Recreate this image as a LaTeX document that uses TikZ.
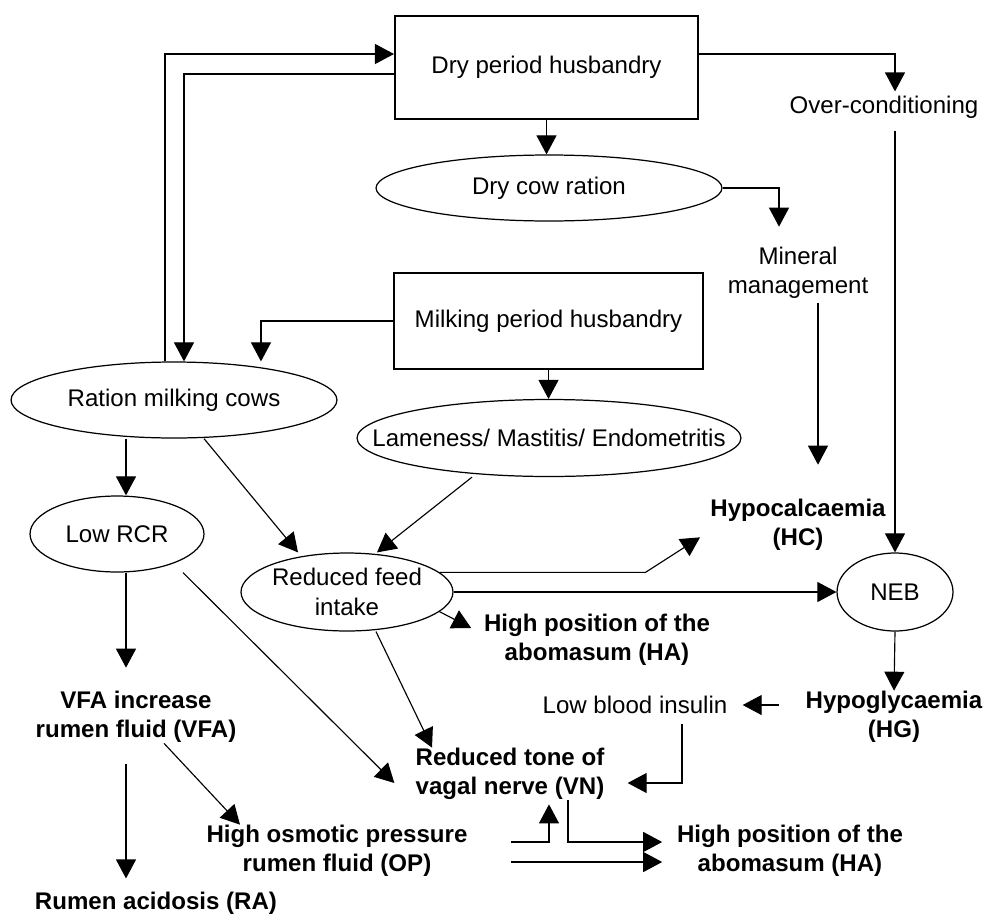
\documentclass[tikz,border=0pt]{standalone}
\usepackage{fontspec}
\setmainfont{Liberation Sans}
\usetikzlibrary{shapes.geometric,arrows.meta,positioning}

\tikzset{
	txt/.style={inner sep=0pt, align=center, font=\fontsize{13.7}{16.8}\selectfont},
	bld/.style={txt, font=\fontsize{13.7}{16.8}\selectfont\bfseries},
	oval/.style={txt, draw, ellipse, line width=0.7pt},
	stall/.style={txt, draw, rectangle, line width=1.2pt},
	flow/.style={-{Triangle[length=0.38cm,width=0.4cm]}, line width=0.65pt},
}

\begin{document}
\begin{tikzpicture}[x=0.02cm, y=-0.02cm]
		\useasboundingbox	(0, 0) rectangle (986, 916);

		\node[stall, minimum width=6.06cm, minimum height=2.06cm]	(dry) at (546.5, 67.5) {Dry period husbandry};
		\node[stall, minimum width=6.18cm, minimum height=1.92cm]	(milk) at (548.5, 321) {Milking period husbandry};
		\node[oval, minimum width=6.92cm, minimum height=1.32cm]	(drycow) at (549, 188) {Dry cow ration};
		\node[oval, minimum width=6.52cm, minimum height=1.52cm]	(ration) at (174, 400) {Ration milking cows};
		\node[oval, minimum width=7.68cm, minimum height=1.54cm]	(lame) at (549, 438) {\makebox[0pt]{Lameness/ Mastitis/ Endometritis}};
		\node[oval, minimum width=3.48cm, minimum height=1.52cm]	(lowrcr) at (117, 534) {Low RCR};
		\node[oval, minimum width=4.24cm, minimum height=1.56cm]	(feed) at (347, 592) {Reduced feed\\intake};
		\node[oval, minimum width=2.32cm, minimum height=1.56cm]	(neb) at (895, 592) {NEB};

		\node[txt]	(overcond) at (884, 107) {Over-conditioning};
		\node[txt]	(mineral) at (798, 273) {Mineral\\management};
		\node[bld]	(hc) at (798, 525) {Hypocalcaemia\\(HC)};
		\node[bld]	(haone) at (597, 640) {High position of the\\abomasum (HA)};
		\node[txt]	(insulin) at (635, 705) {Low blood insulin};
		\node[bld]	(hg) at (894, 717) {Hypoglycaemia\\(HG)};
		\node[bld]	(vfa) at (136, 717) {VFA increase\\rumen fluid (VFA)};
		\node[bld]	(vn) at (510, 774) {Reduced tone of\\vagal nerve (VN)};
		\node[bld]	(op) at (337, 851) {High osmotic pressure\\rumen fluid (OP)};
		\node[bld]	(hatwo) at (790, 851) {High position of the\\abomasum (HA)};
		\node[bld]	(ra) at (156, 903) {Rumen acidosis (RA)};

		\coordinate	(lcol) at ([xshift=0.18cm]lowrcr.north);

		\draw[flow]	([xshift=-0.18cm]ration.north) |- ([yshift=0.27cm]dry.west);
		\draw[flow]	([yshift=-0.13cm]dry.west) -| ([xshift=0.2cm]ration.north);
		\draw[flow]	([yshift=0.27cm]dry.east) -| ([xshift=0.22cm, yshift=0.08cm]overcond.north);
		\draw[flow, shorten <=0.24cm]	(overcond.south -| neb.north) to (neb.north);
		\draw[flow]	(dry.south) to (dry.south |- drycow.north);
		\draw[flow]	(drycow.east) -| ([xshift=-0.38cm, yshift=0.4cm]mineral.north);
		\draw[flow, shorten <=0.08cm, shorten >=0.68cm]	([xshift=0.4cm]mineral.south) to ([xshift=0.4cm]hc.north);

		\draw[flow]	(milk.west) -| ([xshift=1.74cm]ration.north);
		\draw[flow]	(milk.south) to (milk.south |- lame.north);
		\draw[flow]	(lcol |- ration.south) to (lcol);
		\draw[flow]	([xshift=0.6cm]ration.south) to ([xshift=-0.98cm]feed.north);
		\draw[flow]	([xshift=-1.54cm]lame.south) to ([xshift=0.6cm]feed.north);

		\draw[flow]	([xshift=1.32cm]lowrcr.south) to ([xshift=-0.42cm, yshift=-0.18cm]vn.west);
		\draw[flow, shorten >=0.46cm]	(lcol |- lowrcr.south) to (lcol |- vfa.north);
		\draw[flow, shorten <=0.42cm, shorten >=0.26cm]	(lcol |- vfa.south) to (lcol |- ra.north);
		\draw[flow]	([xshift=0.56cm]vfa.south) to ([xshift=-1.94cm]op.north);

		\draw[flow]	([xshift=0.58cm]feed.south) to ([xshift=-1.56cm]vn.north);
		\draw[flow]	(feed.-12) to ([xshift=-0.25cm, yshift=0.24cm]haone.west);
		\draw[flow]	(feed.12) -- ++(206, 0) -- ([xshift=-0.2cm, yshift=0.28cm]hc.south west);
		\draw[flow]	(feed.east) to (neb.west);

		\draw[flow]	(neb.south) to (hg.north);
		\draw[flow, shorten <=0.53cm, shorten >=0.3cm]	(hg.west |- insulin.east) to (insulin.east);
		\draw[flow, shorten <=0.2cm]	([xshift=0.94cm]insulin.south) |- ([xshift=0.46cm, yshift=-0.18cm]vn.east);

		\draw[flow, shorten >=0.08cm]	([xshift=0.86cm, yshift=0.18cm]op.east) -| ([xshift=0.78cm]vn.south);
		\draw[flow]	([xshift=0.86cm, yshift=-0.22cm]op.east) to ([xshift=-0.29cm, yshift=-0.22cm]hatwo.west);
		\draw[flow]	([xshift=1.16cm]vn.south) |- ([xshift=-0.29cm, yshift=0.18cm]hatwo.west);
	\end{tikzpicture}
\end{document}
